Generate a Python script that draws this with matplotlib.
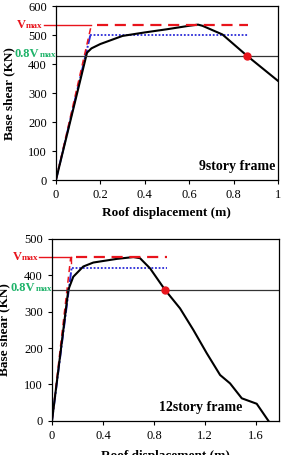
import matplotlib

matplotlib.use("Agg")
import matplotlib.pyplot as plt  # noqa: E402
from matplotlib.offsetbox import AnnotationBbox, HPacker, TextArea  # noqa: E402

plt.rcParams["font.family"] = ["Liberation Serif", "DejaVu Serif"]

# 9-story frame pushover curve
x9 = [0, 0.14, 0.16, 0.2, 0.3, 0.4, 0.5, 0.6, 0.64, 0.66, 0.75, 0.86, 1.0]
y9 = [0, 440, 455, 470, 498, 510, 521, 533, 537, 533, 503, 430, 343]
vmax9, vy9, v08_9 = 537, 500, 430
xel9, xbl9, xend9, xu9 = 0.16, 0.155, 0.865, 0.86

# 12-story frame pushover curve
x12 = [0, 0.128, 0.167, 0.245, 0.324, 0.507, 0.638, 0.69, 0.769, 0.886, 1.004, 1.108,
       1.213, 1.318, 1.396, 1.488, 1.605, 1.697]
y12 = [0, 360, 396, 424, 435, 445, 450, 447, 419, 360, 309, 250,
       186, 126, 103, 62, 47, 0]
vmax12, vy12, v08_12 = 450, 421, 360
xel12, xbl12, xend12, xu12 = 0.147, 0.154, 0.9, 0.886

RED = "#e8141c"
BLUE = "#2b2bd8"
GREEN = "#1fb36a"


def label_v(ax, x_frac, yval, prefix, color):
    parts = [TextArea(prefix + "V", textprops=dict(color=color, fontsize=9, fontweight="bold")),
             TextArea("max", textprops=dict(color=color, fontsize=6.5, fontweight="bold"))]
    box = HPacker(children=parts, align="baseline", pad=0, sep=0)
    ab = AnnotationBbox(box, (x_frac, yval), xycoords=ax.get_yaxis_transform(),
                        box_alignment=(1, 0.5), frameon=False, annotation_clip=False,
                        pad=0)
    ax.add_artist(ab)


def draw_panel(ax, x, y, vmax, vy, v08, xel, xbl, xend, xu, xlim, ylim, title, title_x):
    ax.plot([0, xbl], [0, vy], color=BLUE, lw=1.4, ls=(0, (5, 1, 1, 1)))
    ax.plot([xbl, xend], [vy, vy], color=BLUE, lw=1.3, ls=(0, (1, 1)))
    ax.plot([0, xel], [0, vmax], color=RED, lw=1.1, ls=(0, (4, 3)))
    ax.plot(x, y, color="black", lw=1.5)
    ax.plot([-0.055 * xlim[1], xel], [vmax, vmax], color=RED, lw=1.0, clip_on=False)
    ax.plot([xel + 0.025 * xlim[1], xend], [vmax, vmax], color=RED, lw=1.6, ls=(0, (5, 3)))
    ax.axhline(v08, color="#333333", lw=0.9)
    ax.plot([xu], [v08], "o", color=RED, ms=5, zorder=5)
    ax.set_xlim(*xlim)
    ax.set_ylim(*ylim)
    ax.set_ylabel("Base shear (KN)", fontweight="bold", fontsize=9.5)
    ax.yaxis.set_label_coords(-0.185, 0.5)
    ax.set_xlabel("Roof displacement (m)", fontweight="bold", fontsize=9.5, labelpad=4)
    ax.tick_params(labelsize=9, length=3, width=0.8)
    for s in ax.spines.values():
        s.set_linewidth(0.9)
    label_v(ax, -0.06, vmax, "", RED)
    label_v(ax, 0.0, v08 + 0.012 * ylim[1], "0.8", GREEN)
    ax.text(title_x, 0.04, title, fontweight="bold", fontsize=10,
            ha="right", va="bottom", transform=ax.transAxes)


fig = plt.figure(figsize=(2.81, 4.55), dpi=100)
ax1 = fig.add_axes([0.199, 0.604, 0.790, 0.382])
draw_panel(ax1, x9, y9, vmax9, vy9, v08_9, xel9, xbl9, xend9, xu9,
           (0, 1), (0, 600), "9story frame", 0.99)
ax1.set_xticks([0, 0.2, 0.4, 0.6, 0.8, 1.0])
ax1.set_xticklabels(["0", "0.2", "0.4", "0.6", "0.8", "1"])

ax2 = fig.add_axes([0.185, 0.075, 0.808, 0.4])
draw_panel(ax2, x12, y12, vmax12, vy12, v08_12, xel12, xbl12, xend12, xu12,
           (0, 1.78), (0, 500), "12story frame", 0.84)
ax2.plot([xel12, xel12], [vmax12, 433], color=RED, lw=1.0)
ax2.set_xticks([0, 0.4, 0.8, 1.2, 1.6])
ax2.set_xticklabels(["0", "0.4", "0.8", "1.2", "1.6"])
ax2.xaxis.labelpad = 6

fig.savefig("out.png", dpi=100)
